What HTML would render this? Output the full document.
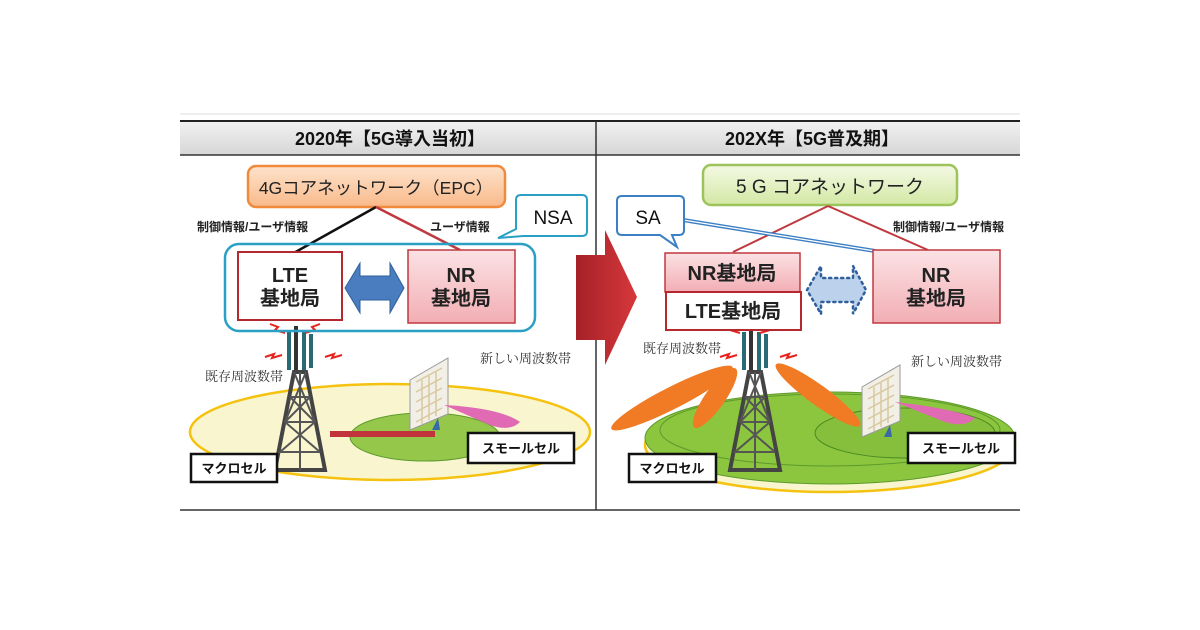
<!DOCTYPE html>
<html><head><meta charset="utf-8"><style>
html,body{margin:0;padding:0;background:#fff;width:1200px;height:630px;overflow:hidden}
text{font-family:"Liberation Sans","Noto Sans CJK JP",sans-serif}
.s{font-family:"Noto Serif CJK SC","Liberation Serif",serif}
</style></head><body>
<svg width="1200" height="630" viewBox="0 0 1200 630" xmlns="http://www.w3.org/2000/svg">
<defs>
<linearGradient id="og" x1="0" y1="0" x2="0" y2="1"><stop offset="0" stop-color="#fde3cc"/><stop offset="1" stop-color="#f9b98a"/></linearGradient>
<linearGradient id="gg" x1="0" y1="0" x2="0" y2="1"><stop offset="0" stop-color="#f4f9e4"/><stop offset="1" stop-color="#d3e8a4"/></linearGradient>
<linearGradient id="pg" x1="0" y1="0" x2="0" y2="1"><stop offset="0" stop-color="#fbe2e4"/><stop offset="1" stop-color="#f2aeb4"/></linearGradient>
<linearGradient id="ra" x1="0" y1="0" x2="1" y2="0"><stop offset="0" stop-color="#a52127"/><stop offset="1" stop-color="#d6383c"/></linearGradient>
<linearGradient id="hd" x1="0" y1="0" x2="0" y2="1"><stop offset="0" stop-color="#f2f2f2"/><stop offset="1" stop-color="#d6d6d6"/></linearGradient>
<g id="tower">
<rect x="-13" y="0" width="4" height="38" fill="#2a6a74"/><rect x="-6" y="-6" width="4" height="44" fill="#333"/><rect x="2" y="0" width="4" height="38" fill="#2a6a74"/><rect x="9" y="2" width="4" height="34" fill="#2a6a74"/>
<path d="M-6 40 L6 40 L25 138 L-25 138 Z" fill="none" stroke="#444" stroke-width="4"/>
<path d="M-6 40 L15 90 L-20 120 L20 120 M6 40 L-15 90 L20 120 M-10 65 L10 65 M-15 90 L15 90 M-10 65 L15 90 M10 65 L-15 90 M0 40 L0 138" fill="none" stroke="#555" stroke-width="2"/>
<path d="M-30 -8 l8 3 l-3 3 l10 3 M20 -8 l-8 3 l3 3 l-10 3 M-35 25 l9 -3 l-2 4 l10 -3 M25 25 l9 -3 l-2 4 l10 -3" stroke="#e8231d" stroke-width="2" fill="none"/>
</g>
<g id="panel">
<path d="M0 22 L38 0 L38 56 L0 72 Z" fill="#f2efe6" stroke="#999"/>
<path d="M6 24 L32 10 M6 34 L32 20 M6 44 L32 30 M6 54 L32 40 M6 64 L32 50 M12 22 L12 66 M19 18 L19 62 M26 14 L26 58" stroke="#d8c9a0" stroke-width="1.5"/>
<path d="M22 72 L30 72 L28 60 Z" fill="#3a69a8"/>
</g>
</defs>
<line x1="180" y1="114" x2="1020" y2="114" stroke="#ddd"/>
<rect x="180" y="121" width="840" height="34" fill="url(#hd)"/>
<line x1="180" y1="121" x2="1020" y2="121" stroke="#222" stroke-width="2"/>
<line x1="180" y1="155" x2="1020" y2="155" stroke="#333" stroke-width="1.5"/>
<line x1="596" y1="121" x2="596" y2="510" stroke="#333" stroke-width="1.5"/>
<line x1="180" y1="510" x2="1020" y2="510" stroke="#333" stroke-width="1.5"/>
<text x="390" y="145" font-size="18" font-weight="bold" text-anchor="middle" fill="#111">2020年【5G導入当初】</text>
<text x="812" y="145" font-size="18" font-weight="bold" text-anchor="middle" fill="#111">202X年【5G普及期】</text>

<!-- LEFT -->
<ellipse cx="390" cy="432" rx="200" ry="48" fill="#f9f6cf" stroke="#f5c210" stroke-width="2.5"/>
<ellipse cx="425" cy="437" rx="75" ry="24" fill="#95c84a" stroke="#5d9a2c"/>
<rect x="330" y="431" width="105" height="6" fill="#c2343b"/>
<use href="#panel" x="410" y="358"/>
<path d="M444 405 Q500 408 520 422 Q510 432 490 425 Z" fill="#e06ab4"/>
<use href="#tower" x="300" y="332"/>
<rect x="248" y="166" width="257" height="41" rx="8" fill="url(#og)" stroke="#f08a3c" stroke-width="2.5"/>
<text x="376" y="194" font-size="17.5" text-anchor="middle" fill="#222">4Gコアネットワーク（EPC）</text>
<line x1="376" y1="207" x2="292" y2="254" stroke="#111" stroke-width="2.5"/>
<line x1="376" y1="207" x2="460" y2="250" stroke="#c0393f" stroke-width="2.5"/>
<text x="197" y="231" font-size="12" font-weight="bold" fill="#222">制御情報/ユーザ情報</text>
<text x="430" y="231" font-size="12" font-weight="bold" fill="#222">ユーザ情報</text>
<path d="M524 195 H582 Q587 195 587 200 V231 Q587 236 582 236 H523 L498 238 L516 229 V200 Q516 195 521 195 Z" fill="#fff" stroke="#2aa0c4" stroke-width="2"/>
<text x="553" y="224" font-size="19" text-anchor="middle" fill="#111">NSA</text>
<rect x="225" y="244" width="310" height="87" rx="14" fill="none" stroke="#2aa0c4" stroke-width="2.5"/>
<rect x="238" y="252" width="104" height="68" fill="#fff" stroke="#b5282e" stroke-width="2"/>
<text x="290" y="282" font-size="20" font-weight="bold" text-anchor="middle" fill="#222">LTE</text>
<text x="290" y="305" font-size="20" font-weight="bold" text-anchor="middle" fill="#222">基地局</text>
<path d="M345 288 L360 263 V276 H390 V263 L404 288 L390 313 V300 H360 V313 Z" fill="#4a7dbf" stroke="#2f5f9c"/>
<rect x="408" y="250" width="107" height="73" fill="url(#pg)" stroke="#c0393f" stroke-width="1.5"/>
<text x="461" y="282" font-size="20" font-weight="bold" text-anchor="middle" fill="#222">NR</text>
<text x="461" y="305" font-size="20" font-weight="bold" text-anchor="middle" fill="#222">基地局</text>
<text class="s" x="205" y="381" font-size="13" fill="#333">既存周波数帯</text>
<text class="s" x="480" y="363" font-size="13" fill="#333">新しい周波数帯</text>
<rect x="191" y="454" width="86" height="28" fill="#fff" stroke="#111" stroke-width="2.5"/>
<text x="234" y="473" font-size="13" font-weight="bold" text-anchor="middle" fill="#111">マクロセル</text>
<rect x="468" y="433" width="106" height="30" fill="#fff" stroke="#111" stroke-width="2.5"/>
<text x="521" y="453" font-size="13" font-weight="bold" text-anchor="middle" fill="#111">スモールセル</text>

<!-- Big arrow -->
<path d="M576 255 H605 V230 L637 297 L605 365 V340 H576 Z" fill="url(#ra)"/>

<!-- RIGHT -->
<ellipse cx="830" cy="445" rx="185" ry="47" fill="#f9f6cf" stroke="#f5c210" stroke-width="2.5"/>
<ellipse cx="830" cy="438" rx="185" ry="46" fill="#8cc63f" stroke="#5d9a2c"/>
<ellipse cx="830" cy="430" rx="170" ry="36" fill="none" stroke="#5d9a2c"/>
<ellipse cx="905" cy="433" rx="90" ry="25" fill="#86bf3c" stroke="#4a8a24"/>
<use href="#panel" x="862" y="365"/>
<path d="M895 402 Q950 408 975 418 Q965 428 945 422 Z" fill="#e06ab4"/>
<ellipse cx="672" cy="398" rx="68" ry="11" transform="rotate(-27 672 398)" fill="#f07b24"/>
<ellipse cx="715" cy="398" rx="36" ry="10" transform="rotate(-55 715 398)" fill="#f07b24"/>
<ellipse cx="818" cy="395" rx="52" ry="10" transform="rotate(36 818 395)" fill="#f07b24"/>
<use href="#tower" x="755" y="332"/>
<rect x="703" y="165" width="254" height="40" rx="8" fill="url(#gg)" stroke="#9cc45a" stroke-width="2.5"/>
<text x="830" y="193" font-size="19" text-anchor="middle" fill="#222">5 G コアネットワーク</text>
<line x1="828" y1="206" x2="733" y2="252" stroke="#c0393f" stroke-width="2"/>
<line x1="828" y1="206" x2="928" y2="250" stroke="#c0393f" stroke-width="2"/>
<line x1="683" y1="220" x2="875" y2="251" stroke="#3b7fc4" stroke-width="4"/>
<line x1="683" y1="220" x2="875" y2="251" stroke="#fff" stroke-width="1.2"/>
<path d="M622 196 H679 Q684 196 684 201 V230 Q684 235 679 235 H672 L677 247 L660 235 H622 Q617 235 617 230 V201 Q617 196 622 196 Z" fill="#fff" stroke="#3b7fc4" stroke-width="2"/>
<text x="648" y="224" font-size="19" text-anchor="middle" fill="#111">SA</text>
<text x="893" y="231" font-size="12" font-weight="bold" fill="#222">制御情報/ユーザ情報</text>
<rect x="665" y="253" width="135" height="39" fill="url(#pg)" stroke="#c0393f" stroke-width="1.5"/>
<text x="732" y="280" font-size="20" font-weight="bold" text-anchor="middle" fill="#222">NR基地局</text>
<rect x="666" y="292" width="135" height="38" fill="#fff" stroke="#b5282e" stroke-width="2"/>
<text x="733" y="318" font-size="20" font-weight="bold" text-anchor="middle" fill="#222">LTE基地局</text>
<path d="M807 290 L821 266 V278 H853 V266 L866 290 L853 314 V302 H821 V314 Z" fill="#bcd2ec" stroke="#2f5f9c" stroke-width="2.5" stroke-dasharray="2 4" stroke-linecap="round"/>
<rect x="873" y="250" width="127" height="73" fill="url(#pg)" stroke="#c0393f" stroke-width="1.5"/>
<text x="936" y="282" font-size="20" font-weight="bold" text-anchor="middle" fill="#222">NR</text>
<text x="936" y="305" font-size="20" font-weight="bold" text-anchor="middle" fill="#222">基地局</text>
<text class="s" x="643" y="353" font-size="13" fill="#333">既存周波数帯</text>
<text class="s" x="911" y="366" font-size="13" fill="#333">新しい周波数帯</text>
<rect x="629" y="454" width="87" height="28" fill="#fff" stroke="#111" stroke-width="2.5"/>
<text x="672" y="473" font-size="13" font-weight="bold" text-anchor="middle" fill="#111">マクロセル</text>
<rect x="908" y="433" width="107" height="30" fill="#fff" stroke="#111" stroke-width="2.5"/>
<text x="961" y="453" font-size="13" font-weight="bold" text-anchor="middle" fill="#111">スモールセル</text>
</svg>
</body></html>
